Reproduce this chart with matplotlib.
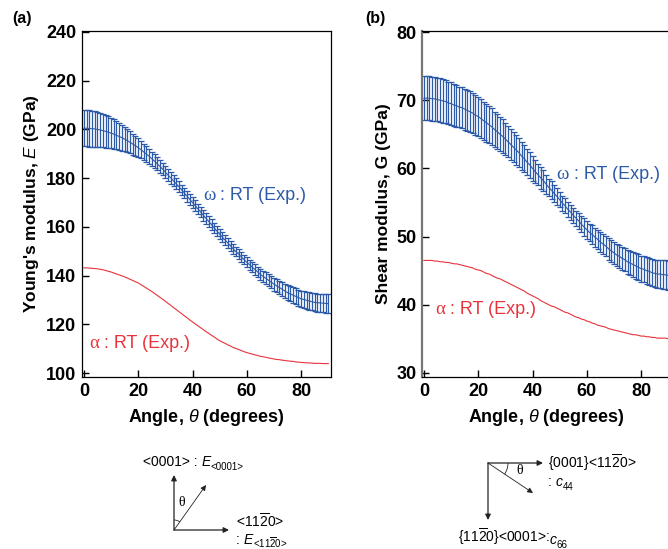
import numpy as np
import matplotlib
matplotlib.use("Agg")
import matplotlib.pyplot as plt
from matplotlib.patches import FancyArrowPatch, Arc

plt.rcParams['font.family'] = ['Liberation Sans', 'DejaVu Sans']
plt.rcParams['mathtext.fontset'] = 'custom'
plt.rcParams['mathtext.rm'] = 'Liberation Sans'
plt.rcParams['mathtext.it'] = 'Liberation Sans:italic'
plt.rcParams['mathtext.bf'] = 'Liberation Sans:bold'

# ---------------- data ----------------
angle = list(range(0, 91))

E_omega = [200.5, 200.5, 200.4, 200.3, 200.2, 200.0,
           199.8, 199.5, 199.2, 198.9, 198.5,
           198.1, 197.6, 197.1, 196.6, 196.0,
           195.4, 194.7, 194.0, 193.3, 192.5,
           191.7, 190.8, 189.9, 189.0, 188.0,
           187.0, 185.9, 184.8, 183.7, 182.5,
           181.3, 180.1, 178.9, 177.7, 176.5,
           175.2, 173.9, 172.6, 171.3, 170.0,
           168.7, 167.4, 166.1, 164.8, 163.5,
           162.2, 160.9, 159.6, 158.3, 157.0,
           155.8, 154.6, 153.4, 152.2, 151.0,
           149.9, 148.8, 147.7, 146.6, 145.5,
           144.5, 143.5, 142.5, 141.5, 140.5,
           139.7, 138.9, 138.1, 137.3, 136.5,
           135.8, 135.1, 134.4, 133.7, 133.0,
           132.5, 132.0, 131.5, 131.0, 130.5,
           130.2, 129.9, 129.6, 129.3, 129.0,
           128.9, 128.8, 128.7, 128.6, 128.5]

E_omega_err = [7.5, 7.5, 7.5, 7.4, 7.3, 7.2,
               7.0, 6.9, 6.7, 6.5, 6.3,
               6.1, 5.8, 5.5, 5.3, 5.0,
               4.8, 4.5, 4.3, 4.0, 3.8,
               3.6, 3.4, 3.2, 3.1, 2.9,
               2.8, 2.7, 2.6, 2.5, 2.4,
               2.4, 2.3, 2.3, 2.2, 2.2,
               2.2, 2.2, 2.2, 2.2, 2.2,
               2.2, 2.2, 2.2, 2.2, 2.2,
               2.2, 2.2, 2.1, 2.1, 2.1,
               2.1, 2.1, 2.0, 2.0, 2.0,
               2.0, 2.0, 2.0, 2.0, 2.0,
               2.0, 2.1, 2.1, 2.2, 2.2,
               2.3, 2.4, 2.4, 2.5, 2.6,
               2.7, 2.8, 2.9, 2.9, 3.0,
               3.1, 3.2, 3.3, 3.3, 3.4,
               3.5, 3.5, 3.6, 3.6, 3.7,
               3.7, 3.7, 3.8, 3.8, 3.8]

E_alpha = [143.2, 143.2, 143.1, 143.0, 142.9, 142.8,
           142.6, 142.4, 142.1, 141.8, 141.5,
           141.1, 140.7, 140.3, 139.9, 139.5,
           139.0, 138.5, 138.0, 137.5, 137.0,
           136.3, 135.6, 134.9, 134.2, 133.5,
           132.7, 131.9, 131.1, 130.3, 129.5,
           128.6, 127.8, 126.9, 126.1, 125.2,
           124.4, 123.5, 122.7, 121.8, 121.0,
           120.2, 119.4, 118.6, 117.8, 117.0,
           116.3, 115.5, 114.8, 114.0, 113.3,
           112.7, 112.2, 111.6, 111.1, 110.5,
           110.1, 109.7, 109.2, 108.8, 108.4,
           108.1, 107.8, 107.5, 107.2, 106.9,
           106.7, 106.5, 106.2, 106.0, 105.8,
           105.6, 105.5, 105.3, 105.2, 105.0,
           104.9, 104.8, 104.6, 104.5, 104.4,
           104.3, 104.2, 104.2, 104.1, 104.0,
           104.0, 104.0, 103.9, 103.9, 103.9]

G_omega = [70.3, 70.3, 70.3, 70.2, 70.2, 70.1,
           70.0, 69.9, 69.8, 69.6, 69.5,
           69.3, 69.2, 69.0, 68.9, 68.7,
           68.5, 68.3, 68.1, 67.8, 67.6,
           67.3, 67.0, 66.7, 66.4, 66.1,
           65.7, 65.4, 65.0, 64.7, 64.3,
           63.9, 63.5, 63.1, 62.7, 62.3,
           61.8, 61.4, 60.9, 60.5, 60.0,
           59.5, 59.1, 58.6, 58.2, 57.7,
           57.2, 56.8, 56.3, 55.9, 55.4,
           54.9, 54.5, 54.0, 53.6, 53.1,
           52.7, 52.3, 51.8, 51.4, 51.0,
           50.6, 50.3, 49.9, 49.6, 49.2,
           48.9, 48.6, 48.2, 47.9, 47.6,
           47.3, 47.1, 46.8, 46.6, 46.3,
           46.1, 45.9, 45.7, 45.5, 45.3,
           45.2, 45.0, 44.9, 44.7, 44.6,
           44.5, 44.5, 44.4, 44.4, 44.3]

G_omega_err = [3.2, 3.2, 3.2, 3.2, 3.2, 3.2,
               3.2, 3.2, 3.1, 3.1, 3.1,
               3.1, 3.1, 3.0, 3.0, 3.0,
               3.0, 3.0, 2.9, 2.9, 2.9,
               2.9, 2.8, 2.8, 2.7, 2.7,
               2.6, 2.6, 2.5, 2.5, 2.4,
               2.3, 2.3, 2.2, 2.2, 2.1,
               2.0, 2.0, 1.9, 1.9, 1.8,
               1.7, 1.6, 1.6, 1.5, 1.4,
               1.3, 1.3, 1.2, 1.2, 1.1,
               1.1, 1.1, 1.1, 1.1, 1.1,
               1.1, 1.2, 1.2, 1.3, 1.3,
               1.3, 1.4, 1.4, 1.4, 1.5,
               1.5, 1.5, 1.6, 1.6, 1.6,
               1.6, 1.7, 1.7, 1.7, 1.8,
               1.8, 1.8, 1.9, 1.9, 1.9,
               1.9, 2.0, 2.0, 2.0, 2.0,
               2.0, 2.0, 2.1, 2.1, 2.1]

G_alpha = [46.5, 46.5, 46.5, 46.5, 46.4, 46.4,
           46.3, 46.3, 46.2, 46.2, 46.1,
           46.0, 46.0, 45.9, 45.8, 45.7,
           45.6, 45.5, 45.4, 45.2, 45.1,
           45.0, 44.8, 44.6, 44.5, 44.3,
           44.1, 43.9, 43.8, 43.6, 43.4,
           43.2, 43.0, 42.8, 42.6, 42.4,
           42.2, 42.0, 41.7, 41.5, 41.3,
           41.1, 40.9, 40.6, 40.4, 40.2,
           40.0, 39.8, 39.7, 39.5, 39.3,
           39.1, 38.9, 38.8, 38.6, 38.4,
           38.2, 38.1, 37.9, 37.8, 37.6,
           37.5, 37.3, 37.2, 37.0, 36.9,
           36.8, 36.7, 36.5, 36.4, 36.3,
           36.2, 36.1, 36.0, 35.9, 35.8,
           35.7, 35.6, 35.6, 35.5, 35.4,
           35.4, 35.3, 35.3, 35.2, 35.2,
           35.1, 35.1, 35.1, 35.1, 35.0]

x_ticks = [0, 20, 40, 60, 80]
E_ticks = [100, 120, 140, 160, 180, 200, 220, 240]
G_ticks = [30, 40, 50, 60, 70, 80]

BLUE = '#2d5aa8'
RED = '#e8333c'

W, H = 668, 549
fig = plt.figure(figsize=(W / 100, H / 100), dpi=100)


def px_axes(left, top, right, bottom):
    return fig.add_axes([left / W, 1 - bottom / H, (right - left) / W, (bottom - top) / H])


def style_axes(ax, left_color='black', left_lw=0.9):
    ax.tick_params(direction='in', length=5, width=1.0, labelsize=13, pad=4,
                   top=False, right=False)
    for lab in ax.get_xticklabels() + ax.get_yticklabels():
        lab.set_fontweight('bold')
    for s in ['top', 'right', 'bottom']:
        ax.spines[s].set_linewidth(0.9)
    ax.spines['left'].set_color(left_color)
    ax.spines['left'].set_linewidth(left_lw)


def omega_label(ax, x, y):
    t = ax.text(x, y, 'ω', color=BLUE, fontsize=13.5, va='baseline', ha='left',
                family='Liberation Serif')
    ax.annotate(' : RT (Exp.)', xy=(1, 0), xycoords=t, color=BLUE, fontsize=13,
                va='bottom', ha='left')


def alpha_label(ax, x, y):
    t = ax.text(x, y, 'α', color=RED, fontsize=13.5, va='baseline', ha='left',
                family='Liberation Serif')
    ax.annotate(' : RT (Exp.)', xy=(1, 0), xycoords=t, color=RED, fontsize=13,
                va='bottom', ha='left')


# ---------------- panel (a) ----------------
axa = px_axes(82, 31, 331, 377)
axa.errorbar(angle, E_omega, yerr=E_omega_err, color=BLUE, lw=0.8, elinewidth=0.9,
             capsize=2.5, capthick=0.9)
axa.plot(angle, E_alpha, color=RED, lw=0.8)
axa.set_xlim(-0.7, 91)
axa.set_ylim(98.4, 240.4)
axa.set_xticks(x_ticks)
axa.set_yticks(E_ticks)
style_axes(axa)
axa.set_xlabel(r'Angle, $\theta$ (degrees)', fontsize=13, fontweight='bold', labelpad=5)
axa.set_ylabel(r"Young's modulus, $\mathit{E}$ (GPa)", fontsize=12.5, fontweight='bold', labelpad=4)
omega_label(axa, 43.8, 171.0)
alpha_label(axa, 1.8, 110.3)

# ---------------- panel (b) ----------------
axb = px_axes(422, 31, 671, 377)
axb.errorbar(angle, G_omega, yerr=G_omega_err, color=BLUE, lw=0.8, elinewidth=0.9,
             capsize=2.5, capthick=0.9)
axb.plot(angle, G_alpha, color=RED, lw=0.8)
axb.set_xlim(-0.7, 91)
axb.set_ylim(29.4, 80.15)
axb.set_xticks(x_ticks)
axb.set_yticks(G_ticks)
style_axes(axb, left_color='#777777', left_lw=1.6)
axb.set_xlabel(r'Angle, $\theta$ (degrees)', fontsize=13, fontweight='bold', labelpad=5)
axb.set_ylabel('Shear modulus, G (GPa)', fontsize=12.5, fontweight='bold', labelpad=4)
omega_label(axb, 48.9, 58.5)
alpha_label(axb, 4.0, 38.6)

# panel letters
fig.text(12 / W, 1 - 18 / H, '(a)', fontsize=11.5, fontweight='bold', va='center', ha='left')
fig.text(365 / W, 1 - 18 / H, '(b)', fontsize=11.5, fontweight='bold', va='center', ha='left')

# ---------------- orientation sketches ----------------
ov = fig.add_axes([0, 0, 1, 1], zorder=-1)
ov.set_xlim(0, W)
ov.set_ylim(H, 0)
ov.axis('off')


def arrow(p0, p1, lw=0.9):
    ov.add_patch(FancyArrowPatch(p0, p1, arrowstyle='-|>', mutation_scale=8,
                                 lw=lw, color='#222222', shrinkA=0, shrinkB=0))


def label_sub(x, y, main, sym, sub):
    t = ov.text(x, y, main, fontsize=10, ha='left', va='baseline')
    s = ov.annotate(sym, xy=(1, 0), xycoords=t, fontsize=10, style='italic',
                    ha='left', va='bottom')
    ov.annotate(sub, xy=(1, 0), xycoords=s, xytext=(0, -2.5), textcoords='offset points',
                fontsize=7, ha='left', va='bottom')


# sketch (a)
o = (174, 530)
arrow(o, (174, 475))
arrow(o, (229, 530))
arrow(o, (206, 485), lw=0.6)
ov.add_patch(Arc(o, 20, 20, theta1=270, theta2=305, lw=0.6, color='#222222'))
ov.text(182, 502, 'θ', fontsize=10, family='Liberation Serif', ha='center', va='center')
label_sub(143, 466, '<0001> : ', 'E', '<0001>')
ov.text(236, 521, '<11$\\overline{2}$0>', fontsize=10, ha='left', va='center')
label_sub(236, 544, ': ', 'E', '<11$\\overline{2}$0>')

# sketch (b)
o2 = (488, 463)
arrow(o2, (543, 463))
arrow(o2, (488, 520))
arrow(o2, (533, 493), lw=0.6)
ov.add_patch(Arc(o2, 40, 40, theta1=0, theta2=34, lw=0.6, color='#222222'))
ov.text(520, 471, 'θ', fontsize=10, family='Liberation Serif', ha='center', va='center')
ov.text(548, 463, '{0001}<11$\\overline{2}$0>', fontsize=10, ha='left', va='center')
label_sub(548, 486, ': ', 'c', '44')
label_sub(458, 542, '{11$\\overline{2}$0}<0001>:', 'c', '66')

fig.savefig('out.png', dpi=100)
